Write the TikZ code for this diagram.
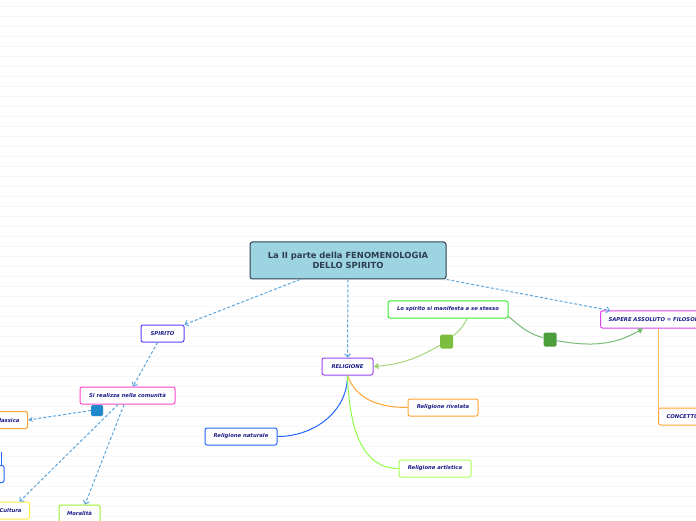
\documentclass[tikz,border=0pt]{standalone}
\usepackage{fontspec}
\setmainfont{DejaVu Sans}
\usetikzlibrary{arrows.meta}

\definecolor{linkblue}{HTML}{5AA5DC}
\definecolor{navytext}{HTML}{1B1B8A}
\definecolor{rootfill}{HTML}{9DD4E2}
\definecolor{rootdraw}{HTML}{2E3E4E}
\definecolor{roottext}{HTML}{2C3E50}
\definecolor{cspirito}{HTML}{5544FF}
\definecolor{csi}{HTML}{FF44CC}
\definecolor{corange}{HTML}{FFA533}
\definecolor{cyellow}{HTML}{FFEE44}
\definecolor{clime}{HTML}{99EE33}
\definecolor{cviolet}{HTML}{9944EE}
\definecolor{cgreen}{HTML}{33EE33}
\definecolor{cmagenta}{HTML}{DD44EE}
\definecolor{cblue}{HTML}{2266FF}
\definecolor{cpale}{HTML}{AAFF55}
\definecolor{greenone}{HTML}{A8D47A}
\definecolor{greentwo}{HTML}{77BB77}
\definecolor{markone}{HTML}{7DBD3D}
\definecolor{marktwo}{HTML}{4C9E3C}
\definecolor{markblue}{HTML}{2288CC}

\begin{document}
\begin{tikzpicture}[x=1pt, y=1pt, >=Stealth,
  topic/.style={draw=#1, rounded corners=2pt, line width=1pt, fill=white,
    minimum height=17pt, inner xsep=8pt, inner ysep=0pt, text=navytext,
    font=\fontsize{5.3}{6}\selectfont\bfseries\itshape},
  link/.style={draw=linkblue, line width=1pt, dash pattern=on 3pt off 2pt,
    -{Straight Barb[length=3pt,width=6pt]}},
  marker/.style={fill=#1, rounded corners=1.5pt, inner sep=0pt,
    minimum width=13pt, minimum height=14pt},
  branch/.style={draw=#1, line width=1pt}]
\clip (0,0) rectangle (696,520);
\fill[white] (0,0) rectangle (696,520);
% faint stripes of the page
\foreach \yy in {4,14,...,514}
  \draw[black!3, line width=0.7pt] (0,\yy) -- (696,\yy);

\node[draw=rootdraw, fill=rootfill, line width=1pt, rounded corners=2.5pt,
  minimum width=196pt, minimum height=37pt, align=center, text=roottext,
  font=\fontsize{8.4}{10}\selectfont\bfseries] (root) at (348,259.5)
  {La II parte della FENOMENOLOGIA\\DELLO SPIRITO};

\node[topic=cspirito, minimum width=43pt] (spirito) at (162.5,186.5) {SPIRITO};
\node[topic=csi, minimum width=95pt] (comunita) at (127.5,124.5) {Si realizza nella comunità};
\node[marker=markblue, minimum width=12pt, minimum height=11pt] (mblue) at (97,109.5) {};
\node[topic=corange, anchor=east] (eticita) at (28,100) {Eticità classica};
\node[topic=cblue, anchor=east, minimum width=40pt] (sub) at (4.5,46) {};
\coordinate (subin) at (1,68);
\node[topic=cyellow, anchor=east] (cultura) at (30,9.5) {Cultura};
\node[topic=clime, minimum width=41pt] (moralita) at (79.5,6.5) {Moralità};

\node[topic=cviolet, minimum width=51pt] (religione) at (347.5,153.5) {RELIGIONE};
\node[topic=cgreen, minimum width=120pt] (manifesta) at (448,210.5) {Lo spirito si manifesta a se stesso};
\node[topic=cmagenta, anchor=west] (sapere) at (600,200.5) {SAPERE ASSOLUTO = FILOSOFIA};
\node[topic=corange, anchor=west] (concetto) at (658,103.5) {CONCETTO};

\node[topic=cblue, minimum width=72pt] (naturale) at (241,83.5) {Religione naturale};
\node[topic=corange, minimum width=70pt] (rivelata) at (443,112.5) {Religione rivelata};
\node[topic=cpale, minimum width=72pt] (artistica) at (435,51.5) {Religione artistica};

\node[marker=markone] (mone) at (446.5,178.5) {};
\node[marker=marktwo] (mtwo) at (550,180.5) {};

\draw[link] ([xshift=-48pt]root.south) -- (spirito.north east);
\draw[link] (root.south) -- (religione.north);
\draw[link] (root.south east) -- ([xshift=10pt]sapere.north west);
\draw[link] ([xshift=-5pt]spirito.south) -- ([xshift=5.5pt]comunita.north);
\draw[link, -{Stealth[length=5pt,width=5pt]}] (mblue.west) -- (eticita.east);
\draw[link] ([xshift=-9.5pt]comunita.south) -- ([xshift=9pt]cultura.north);
\draw[link] ([xshift=-3.5pt]comunita.south) -- ([xshift=5.5pt]moralita.north);
\draw[branch=cblue] (subin) -- ([xshift=-3.5pt]sub.north east);

\draw[branch=greenone] ([xshift=19pt]manifesta.south) to[out=-115,in=40] (mone);
\draw[branch=greenone, -{Triangle[length=5pt,width=6pt]}] (mone) to[out=210,in=5] (religione.east);
\draw[branch=greentwo] ([yshift=2pt]manifesta.south east) to[out=-40,in=165] (mtwo);
\draw[branch=greentwo, -{Triangle[length=5pt,width=6pt]}] (mtwo) to[out=-10,in=210] ([xshift=43pt]sapere.south west);
\draw[branch=corange!80] (concetto.north west) -- (concetto.north west |- sapere.south);

\draw[branch=cblue] (religione.south) to[out=-90,in=0] (naturale.east);
\draw[branch=corange] (religione.south) to[out=-70,in=180] (rivelata.west);
\draw[branch=cpale!85!green] (religione.south) to[out=-88,in=180] (artistica.west);
\end{tikzpicture}
\end{document}
